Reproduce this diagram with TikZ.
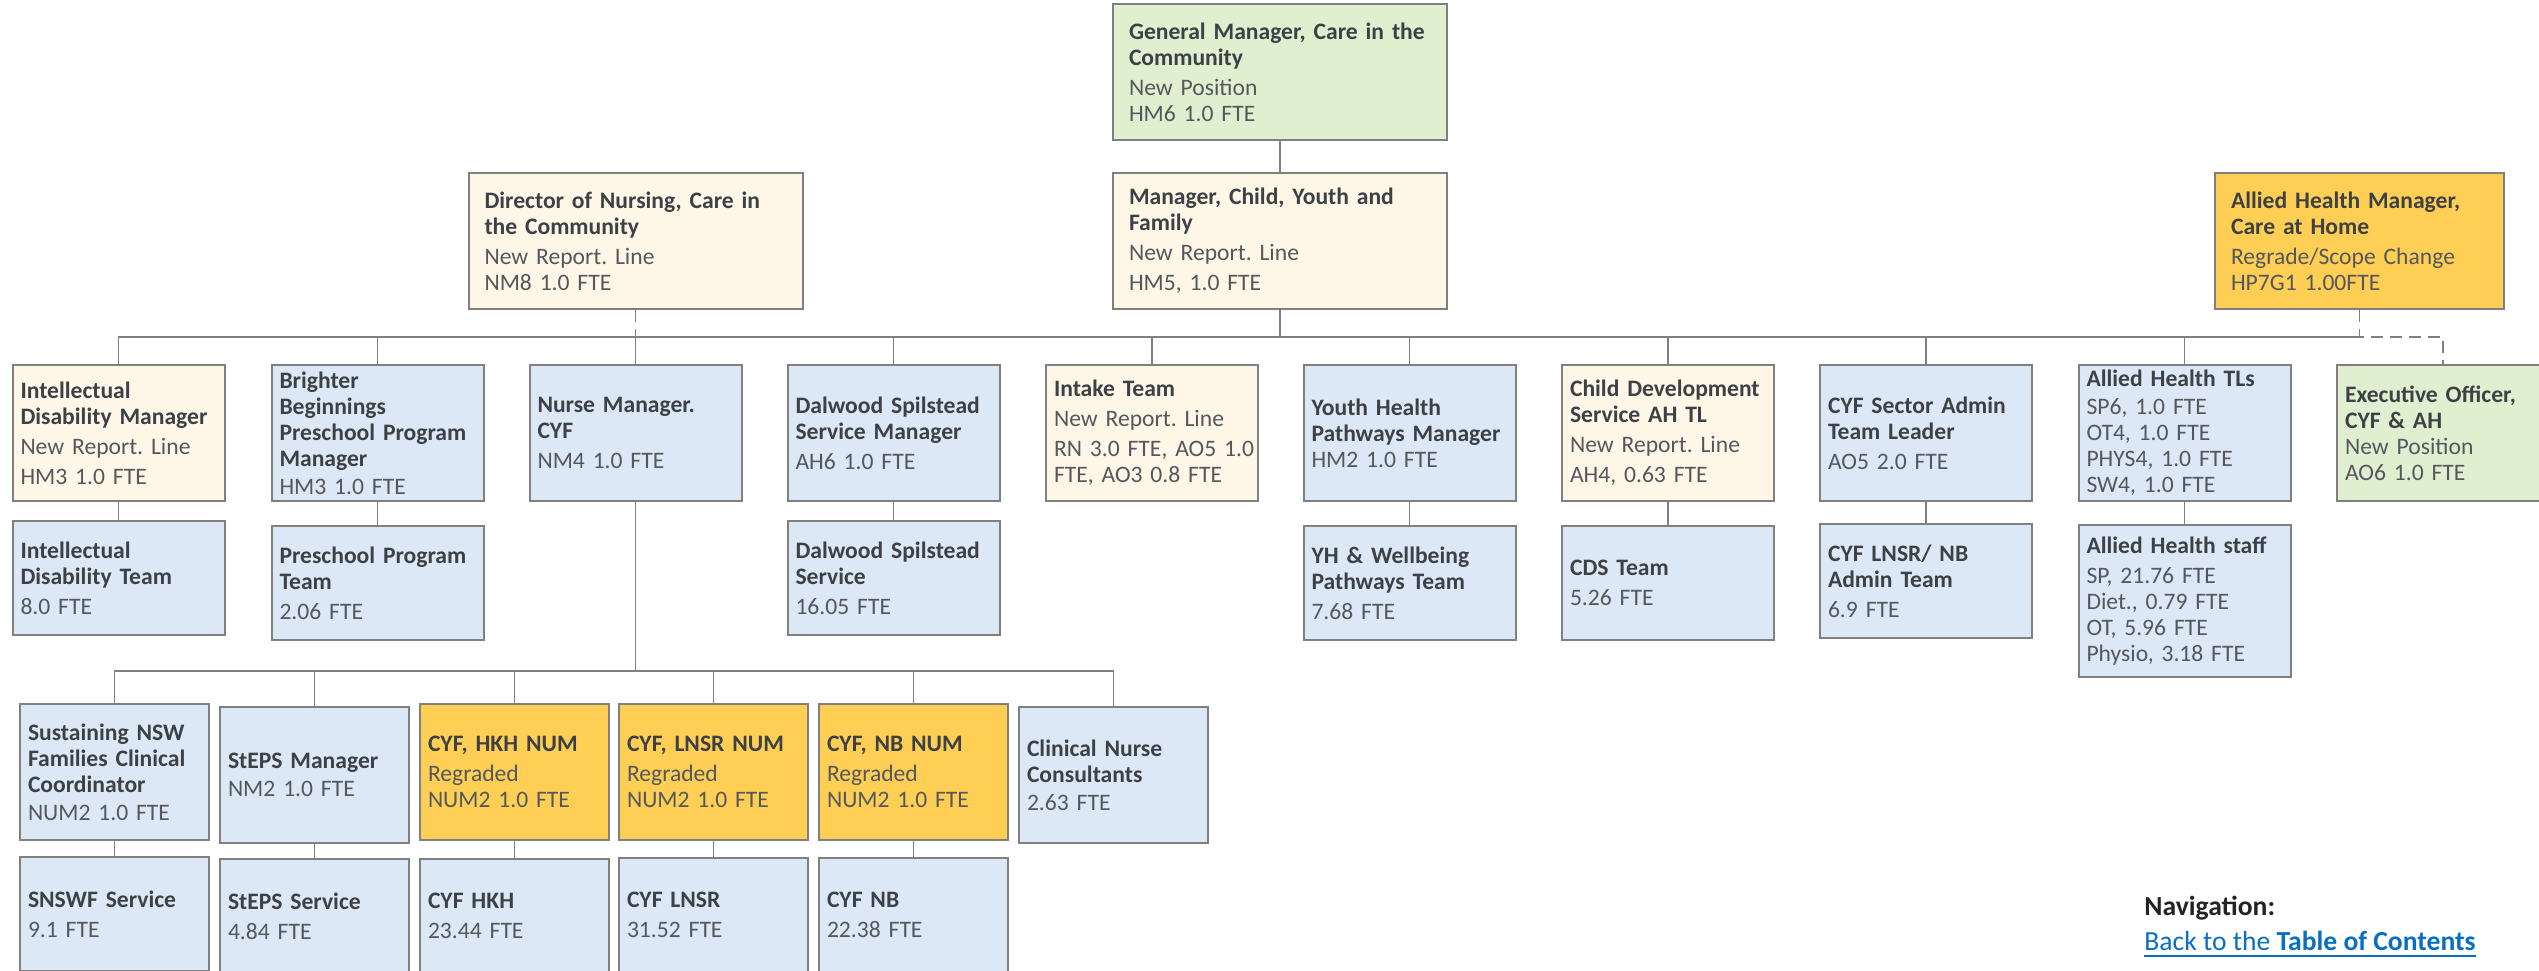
\documentclass[tikz,border=0pt]{standalone}
\usepackage{fontspec}
\setmainfont{Carlito}
\usetikzlibrary{positioning}
\frenchspacing

\definecolor{edge}{HTML}{808080}
\definecolor{head}{HTML}{3D4146}
\definecolor{body}{HTML}{54585D}
\definecolor{newposfill}{HTML}{DFEFD0}
\definecolor{newlinefill}{HTML}{FEF7E8}
\definecolor{regradefill}{HTML}{FFCE54}
\definecolor{currentfill}{HTML}{DCE8F5}
\definecolor{navtext}{HTML}{222428}
\definecolor{linkblue}{HTML}{0A6EC2}

\newcommand{\boxhead}[1]{{\bfseries\color{head}#1}}

\begin{document}
\begin{tikzpicture}[x=0.5pt,y=-0.5pt,
  unit/.style={draw=edge, line width=1pt, inner ysep=0pt, align=left,
    text=body, font=\fontsize{11.8}{13}\selectfont\frenchspacing},
  topbox/.style={unit, inner xsep=8pt, text width=151pt, minimum height=68pt},
  ahbox/.style={unit, inner xsep=8pt, text width=128.5pt, minimum height=68pt},
  midbox/.style={unit, inner xsep=4pt, text width=98pt, minimum height=68pt},
  lowbox/.style={unit, inner xsep=4pt, text width=86.5pt, minimum height=68pt},
  teambox/.style={minimum height=57pt},
  newpos/.style={fill=newposfill},
  newline/.style={fill=newlinefill},
  regrade/.style={fill=regradefill},
  current/.style={fill=currentfill},
  link/.style={draw=edge, line width=0.75pt},
  dashlink/.style={link, dash pattern=on 6pt off 3.5pt},
  navfont/.style={inner sep=0pt, font=\fontsize{13.8}{16}\selectfont}]
\useasboundingbox (0,0) rectangle (2539,970);

\node[topbox,newpos] (gm) at (1280,72) {\boxhead{General Manager, Care in the\\ Community}\\[2pt] New Position\\ HM6 1.0 FTE};
\node[topbox,newline] (dir) at (635.5,241) {\boxhead{Director of Nursing, Care in\\ the Community}\\[2pt] New Report. Line\\ NM8 1.0 FTE};
\node[topbox,newline] (mcyf) at (1280,241) {\boxhead{Manager, Child, Youth and\\ Family}\\[2pt] New Report. Line\\[2pt] HM5, 1.0 FTE};
\node[ahbox,regrade] (ahm) at (2359.5,241) {\boxhead{Allied Health Manager,\\ Care at Home}\\[2pt] Regrade/Scope Change\\ HP7G1 1.00FTE};

\node[midbox,newline] (idm) at (118.5,433) {\boxhead{Intellectual\\ Disability Manager}\\[2pt] New Report. Line\\[2pt] HM3 1.0 FTE};
\node[midbox,current] (bbm) at (377.5,433) {\boxhead{Brighter\\ Beginnings\\ Preschool Program\\ Manager}\\[1pt] HM3 1.0 FTE};
\node[midbox,current] (nm) at (635.5,433) {\boxhead{Nurse Manager.\\ CYF}\\[2pt] NM4 1.0 FTE};
\node[midbox,current] (dsm) at (893.5,433) {\boxhead{Dalwood Spilstead\\ Service Manager}\\[2pt] AH6 1.0 FTE};
\node[midbox,newline] (intake) at (1152,433) {\boxhead{Intake Team}\\[2pt] New Report. Line\\[2pt] \mbox{RN 3.0 FTE, AO5 1.0}\\ FTE, AO3 0.8 FTE};
\node[midbox,current] (yhm) at (1409.5,433) {\boxhead{Youth Health\\ Pathways Manager}\\ HM2 1.0 FTE};
\node[midbox,newline] (cds) at (1668,433) {\boxhead{Child Development\\ Service AH TL}\\[2pt] New Report. Line\\[2pt] AH4, 0.63 FTE};
\node[midbox,current] (adm) at (1926,433) {\boxhead{CYF Sector Admin\\ Team Leader}\\[2pt] AO5 2.0 FTE};
\node[midbox,current] (ahtl) at (2184.5,433) {\boxhead{Allied Health TLs}\\[1pt] SP6, 1.0 FTE\\ OT4, 1.0 FTE\\ PHYS4, 1.0 FTE\\ SW4, 1.0 FTE};
\node[midbox,newpos] (eo) at (2443,433) {\boxhead{Executive Officer,\\ CYF \& AH}\\ New Position\\ AO6 1.0 FTE};

\node[midbox,teambox,current] (idt) at (118.5,578) {\boxhead{Intellectual\\ Disability Team}\\[2pt] 8.0 FTE};
\node[midbox,teambox,current] (ppt) at (377.5,583) {\boxhead{Preschool Program\\ Team}\\[2pt] 2.06 FTE};
\node[midbox,teambox,current] (dss) at (893.5,578) {\boxhead{Dalwood Spilstead\\ Service}\\[2pt] 16.05 FTE};
\node[midbox,teambox,current] (yht) at (1409.5,583) {\boxhead{YH \& Wellbeing\\ Pathways Team}\\[2pt] 7.68 FTE};
\node[midbox,teambox,current] (cdt) at (1668,583) {\boxhead{CDS Team}\\[2pt] 5.26 FTE};
\node[midbox,teambox,current] (admt) at (1926,581) {\boxhead{CYF LNSR/ NB\\ Admin Team}\\[2pt] 6.9 FTE};
\node[midbox,current,minimum height=76pt] (ahs) at (2184.5,601) {\boxhead{Allied Health staff}\\[2pt] SP, 21.76 FTE\\ Diet., 0.79 FTE\\ OT, 5.96 FTE\\ Physio, 3.18 FTE};

\node[lowbox,current] (snc) at (114.5,772) {\boxhead{Sustaining NSW\\ Families Clinical\\ Coordinator}\\[1pt] NUM2 1.0 FTE};
\node[lowbox,current] (stm) at (314.5,775) {\boxhead{StEPS Manager}\\[1pt] NM2 1.0 FTE};
\node[lowbox,regrade] (hkh) at (514.5,772) {\boxhead{CYF, HKH NUM}\\[2pt] Regraded\\ NUM2 1.0 FTE};
\node[lowbox,regrade] (lnsr) at (713.5,772) {\boxhead{CYF, LNSR NUM}\\[2pt] Regraded\\ NUM2 1.0 FTE};
\node[lowbox,regrade] (nb) at (913.5,772) {\boxhead{CYF, NB NUM}\\[2pt] Regraded\\ NUM2 1.0 FTE};
\node[lowbox,current] (cnc) at (1113.5,775) {\boxhead{Clinical Nurse\\ Consultants}\\[1pt] 2.63 FTE};

\node[lowbox,teambox,current] (sns) at (114.5,914) {\boxhead{SNSWF Service}\\[2pt] 9.1 FTE};
\node[lowbox,teambox,current] (sts) at (314.5,916) {\boxhead{StEPS Service}\\[2pt] 4.84 FTE};
\node[lowbox,teambox,current] (hkht) at (514.5,916) {\boxhead{CYF HKH}\\[2pt] 23.44 FTE};
\node[lowbox,teambox,current] (lnsrt) at (713.5,915) {\boxhead{CYF LNSR}\\[2pt] 31.52 FTE};
\node[lowbox,teambox,current] (nbt) at (913.5,915) {\boxhead{CYF NB}\\[2pt] 22.38 FTE};

\coordinate (bus) at (1280,337);
\coordinate (nbus) at (635.5,671);

\draw[link] (gm) -- (mcyf);
\draw[link] (mcyf) -- (bus);
\foreach \u in {idm,bbm,nm,dsm,intake,yhm,cds,adm,ahtl}
  \draw[link] (bus) -| (\u);
\draw[link] (bus) -- (bus -| ahm.south);
\draw[dashlink] (ahm) |- (bus -| eo.north) -- (eo);
\draw[dashlink] (dir) -- (nm);
\foreach \a/\b in {idm/idt,bbm/ppt,dsm/dss,yhm/yht,cds/cdt,adm/admt,ahtl/ahs}
  \draw[link] (\a) -- (\b);
\draw[link] (nm) -- (nbus);
\foreach \u in {snc,stm,hkh,lnsr,nb,cnc}
  \draw[link] (nbus) -| (\u);
\foreach \a/\b in {snc/sns,stm/sts,hkh/hkht,lnsr/lnsrt,nb/nbt}
  \draw[link] (\a) -- (\b);

\node[navfont, text=navtext, anchor=base west] (nav) at (2144,915) {\bfseries Navigation:};
\node[navfont, text=linkblue, anchor=base west] (toc) at (2144,950) {Back to the \textbf{Table of Contents}};
\draw[linkblue, line width=0.75pt] ([yshift=-3pt]toc.base west) -- ([yshift=-3pt]toc.base east);
\end{tikzpicture}
\end{document}
